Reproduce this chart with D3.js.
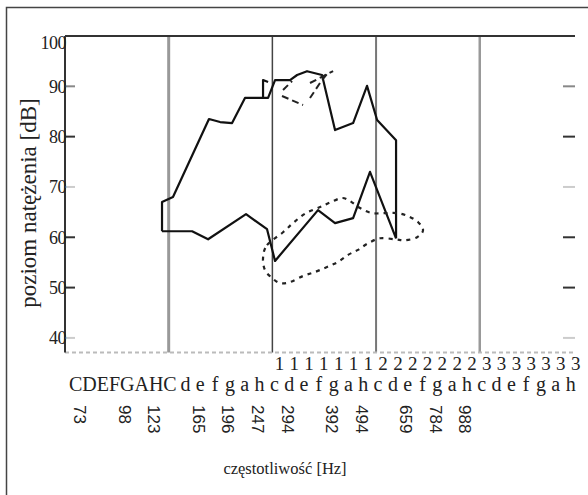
<!DOCTYPE html>
<html>
<head>
<meta charset="utf-8">
<script src="https://cdn.jsdelivr.net/npm/d3@7/dist/d3.min.js"></script>
<style>
  body { margin: 0; background: #fff; }
  text { fill: #222; }
</style>
</head>
<body>
<svg id="chart" width="588" height="495"></svg>
<script>
// level ticks [dB]
const dbTicks = [40, 50, 60, 70, 80, 90, 100];
// x positions are diatonic steps, great-octave C = 0
const octaveLines = [7, 14, 21, 28];
const greatOctave = "CDEFGAHC";
const noteStart = 8;
const noteNames = ["d","e","f","g","a","h",
  "c","d","e","f","g","a","h",
  "c","d","e","f","g","a","h",
  "c","d","e","f","g","a","h"];
const markStart = 14;
const octaveMarks = ["1","1","1","1","1","1","1",
  "2","2","2","2","2","2","2",
  "3","3","3","3","3","3","3"];
const freqLabels = [73, 98, 123, 165, 196, 247, 294, 392, 494, 659, 784, 988];
const freqSteps  = [1, 4, 6, 9, 11, 13, 15, 18, 20, 23, 25, 27];

// [step, dB]
const maxCurve = [[6.55,61.2],[6.55,67.0],[7.29,68.0],[9.72,83.5],[10.47,82.9],[11.28,82.7],
  [12.15,87.7],[13.71,87.7],[14.18,91.25],[15.19,91.25],[15.67,92.25],[16.34,93.0],
  [16.88,92.6],[17.35,92.25],[18.23,81.3],[19.45,82.7],[20.39,90.1],[21.07,83.3],
  [22.35,79.3],[22.35,59.8]];
const minCurve = [[6.55,61.2],[8.58,61.2],[9.66,59.6],[12.22,64.6],[13.64,61.6],[14.18,55.3],
  [17.08,65.4],[18.23,62.8],[19.45,63.8],[20.59,73.0],[22.35,59.8]];
const spur = [[13.37,87.7],[13.37,91.25],[13.71,90.85]];
const speechLoop = [[13.37,55.9],[13.64,58.45],[14.72,61.0],[15.46,63.0],[16.27,64.8],[17.22,66.0],
  [17.96,67.0],[18.70,67.8],[19.24,67.2],[19.92,65.8],[20.73,64.8],[21.61,64.8],[22.42,64.8],
  [23.16,64.2],[23.84,63.0],[24.17,61.4],[23.77,60.0],[22.96,59.4],[22.28,59.6],[21.27,59.8],
  [20.46,58.8],[19.78,57.5],[19.11,56.5],[18.43,55.1],[17.69,54.1],[16.88,53.1],[16.07,52.3],
  [15.19,51.1],[14.52,50.9],[13.98,51.9],[13.50,53.5]];
const upperDashes = [
  [[14.72,89.26],[15.33,91.05]],
  [[14.65,88.07],[16.07,86.28]],
  [[16.54,87.67],[17.35,91.25],[17.69,92.45]],
  [[16.54,90.66],[18.10,93.04]]
];

const svg = d3.select("#chart");
const pLeft = 65, pRight = 575, pTop = 36, pBottom = 352.5;

const x = d3.scaleLinear().domain([0, 34.43]).range([pLeft, pRight]);
const y = d3.scaleLinear().domain([37.1, 100]).range([pBottom, pTop]);

// outer frame (cut off at right and bottom)
svg.append("rect")
  .attr("x", 6.5).attr("y", 7.5).attr("width", 620).attr("height", 520)
  .attr("fill", "none").attr("stroke", "#444").attr("stroke-width", 1.5);

// octave boundaries
const lineColor = ["#999", "#444", "#777", "#999"];
const lineWidth = [3, 1.5, 2, 2.5];
svg.append("g").selectAll("line")
  .data(octaveLines)
  .join("line")
    .attr("x1", d => x(d)).attr("x2", d => x(d))
    .attr("y1", pTop).attr("y2", pBottom)
    .attr("stroke", (d, i) => lineColor[i])
    .attr("stroke-width", (d, i) => lineWidth[i]);

// bottom axis: light dotted line
svg.append("line")
  .attr("x1", pLeft).attr("x2", pRight).attr("y1", pBottom).attr("y2", pBottom)
  .attr("stroke", "#bbb").attr("stroke-width", 2).attr("stroke-dasharray", "4,3");

// frame: top and left
svg.append("line")
  .attr("x1", pLeft).attr("x2", pRight).attr("y1", pTop).attr("y2", pTop)
  .attr("stroke", "#333").attr("stroke-width", 2);
svg.append("line")
  .attr("x1", pLeft).attr("x2", pLeft).attr("y1", pTop).attr("y2", pBottom)
  .attr("stroke", "#333").attr("stroke-width", 2);

// ticks, both sides
const tickColor = d => (d === 40 || d === 70) ? "#ccc" : (d === 90 ? "#888" : "#333");
const inner = dbTicks.filter(d => d < 100);
svg.append("g").selectAll("line")
  .data(inner)
  .join("line")
    .attr("x1", pLeft).attr("x2", pLeft + 10)
    .attr("y1", d => y(d)).attr("y2", d => y(d))
    .attr("stroke", tickColor).attr("stroke-width", 2);
svg.append("g").selectAll("line")
  .data(inner)
  .join("line")
    .attr("x1", pRight - 12).attr("x2", pRight)
    .attr("y1", d => y(d)).attr("y2", d => y(d))
    .attr("stroke", tickColor).attr("stroke-width", 2);

svg.append("g").selectAll("text")
  .data(dbTicks)
  .join("text")
    .attr("x", pLeft + 1)
    .attr("y", d => Math.max(y(d), pTop + 7))
    .attr("dy", "0.35em")
    .attr("text-anchor", "end")
    .attr("font-family", "Liberation Serif")
    .attr("font-size", 18)
    .attr("letter-spacing", -0.5)
    .text(d => d);

// voice range profile
const line = d3.line().x(d => x(d[0])).y(d => y(d[1]));
const solid = [maxCurve, minCurve, spur];
svg.append("g").selectAll("path")
  .data(solid)
  .join("path")
    .attr("d", line)
    .attr("fill", "none")
    .attr("stroke", "#111")
    .attr("stroke-width", 2.2)
    .attr("stroke-linejoin", "round");

// speech range (dashed)
svg.append("path")
  .attr("d", d3.line().x(d => x(d[0])).y(d => y(d[1])).curve(d3.curveCardinalClosed)(speechLoop))
  .attr("fill", "none")
  .attr("stroke", "#222")
  .attr("stroke-width", 2.2)
  .attr("stroke-dasharray", "4,5");
svg.append("g").selectAll("path")
  .data(upperDashes)
  .join("path")
    .attr("d", line)
    .attr("fill", "none")
    .attr("stroke", "#222")
    .attr("stroke-width", 2)
    .attr("stroke-dasharray", "7,4");

// note names
const serif = "Liberation Serif";
svg.append("g").selectAll("text")
  .data(octaveMarks)
  .join("text")
    .attr("x", (d, i) => x(markStart + i) + 7)
    .attr("y", 370)
    .attr("text-anchor", "middle")
    .attr("font-family", serif)
    .attr("font-size", 19)
    .text(d => d);

svg.append("text")
  .attr("x", x(7) + 8)
  .attr("y", 391)
  .attr("text-anchor", "end")
  .attr("font-family", serif)
  .attr("font-size", 20)
  .text(greatOctave);

svg.append("g").selectAll("text")
  .data(noteNames)
  .join("text")
    .attr("x", (d, i) => x(noteStart + i) + 2)
    .attr("y", 391)
    .attr("text-anchor", "middle")
    .attr("font-family", serif)
    .attr("font-size", 20)
    .text(d => d);

// frequencies, rotated
svg.append("g").selectAll("text")
  .data(freqLabels)
  .join("text")
    .attr("transform", (d, i) => `translate(${x(freqSteps[i])},405) rotate(90)`)
    .attr("dominant-baseline", "central")
    .attr("font-family", "Liberation Sans")
    .attr("font-size", 17)
    .text(d => d);

// axis titles
svg.append("text")
  .attr("transform", "translate(36,203) rotate(-90)")
  .attr("text-anchor", "middle")
  .attr("font-family", serif)
  .attr("font-size", 23)
  .text("poziom natężenia [dB]");

svg.append("text")
  .attr("x", 285).attr("y", 474)
  .attr("text-anchor", "middle")
  .attr("font-family", serif)
  .attr("font-size", 16.5)
  .text("częstotliwość [Hz]");
</script>
</body>
</html>
